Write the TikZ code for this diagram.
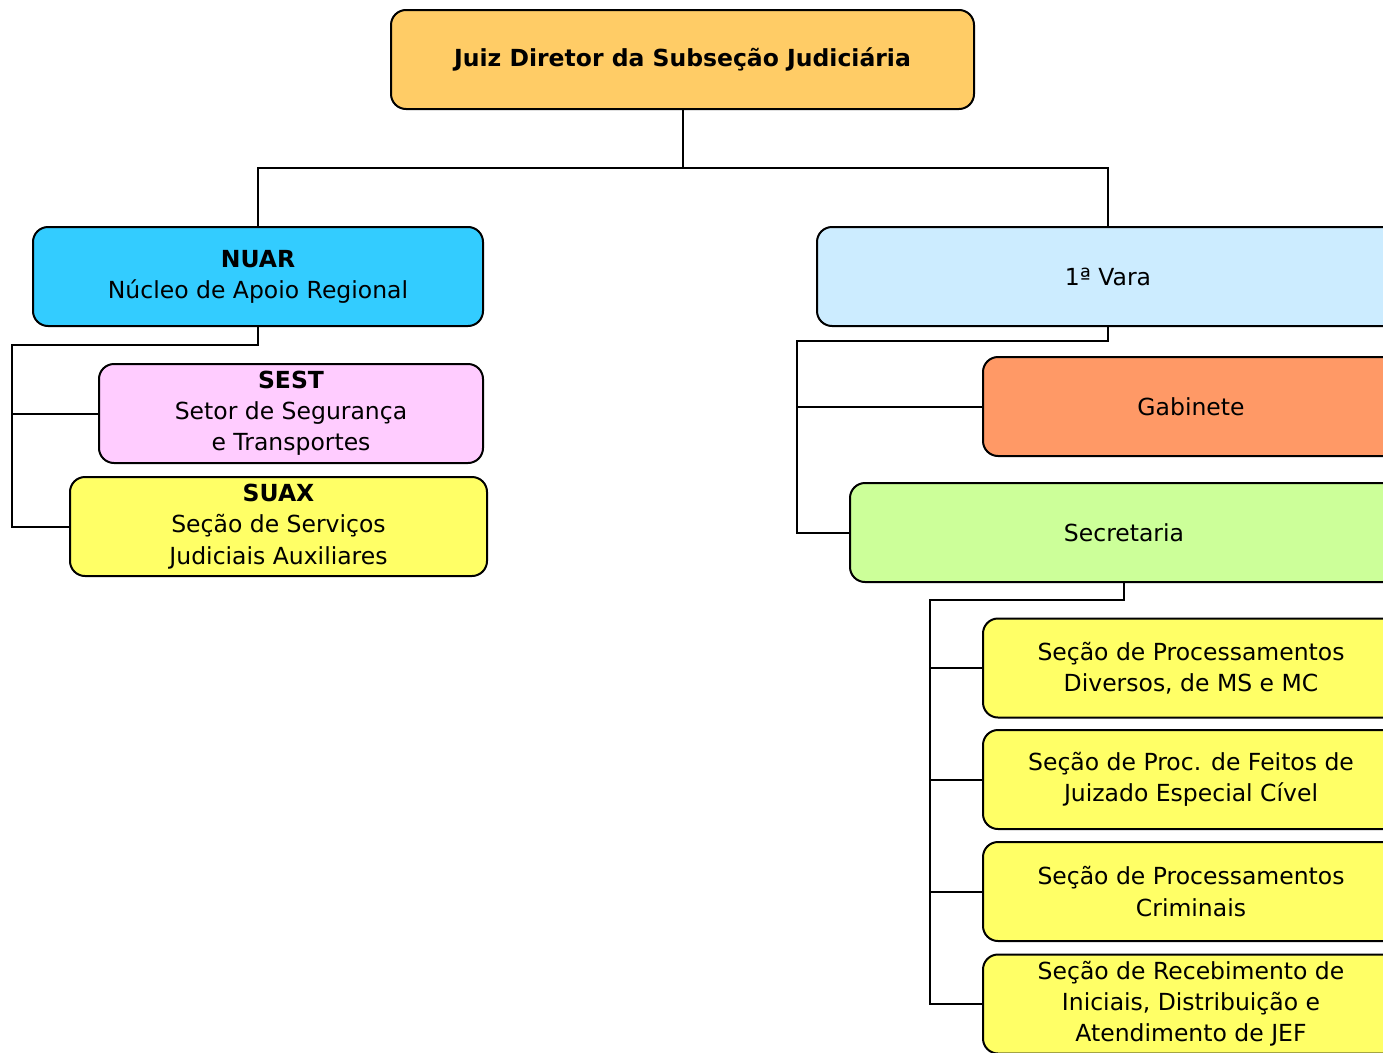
\documentclass[tikz,border=0pt]{standalone}
\usepackage{fontspec}
\setmainfont{DejaVu Sans}
\begin{document}
\begin{tikzpicture}[x=1pt,y=-1pt,
  box/.style={draw=black,line width=2pt,rounded corners=15pt,minimum height=99pt,inner sep=0pt,align=center,
    font=\fontsize{23.5}{31.2}\selectfont},
  conn/.style={draw=black,line width=2pt}]
\useasboundingbox (0,0) rectangle (1383,1052);
\clip (0,0) rectangle (1383,1052);
\node[box,fill={rgb,255:red,255;green,204;blue,102},minimum width=583pt] (top) at (682.5,59.5) {\textbf{Juiz Diretor da Subseção Judiciária}};
\node[box,fill={rgb,255:red,51;green,204;blue,255},minimum width=450pt] (nuar) at (258,276.5) {\textbf{NUAR}\\Núcleo de Apoio Regional};
\node[box,fill={rgb,255:red,255;green,204;blue,255},minimum width=384pt] (sest) at (291,413.5) {\textbf{SEST}\\Setor de Segurança\\e Transportes};
\node[box,fill={rgb,255:red,255;green,255;blue,102},minimum width=417pt] (suax) at (278.5,526.5) {\textbf{SUAX}\\Seção de Serviços\\Judiciais Auxiliares};
\node[box,fill={rgb,255:red,204;green,236;blue,255},minimum width=582pt] (vara) at (1108,276.5) {1ª Vara};
\node[box,fill={rgb,255:red,255;green,153;blue,102},minimum width=416pt] (gab) at (1191,406.5) {Gabinete};
\node[box,fill={rgb,255:red,204;green,255;blue,153},minimum width=548pt] (sec) at (1124,532.5) {Secretaria};
\node[box,fill={rgb,255:red,255;green,255;blue,102},minimum width=416pt] (s1) at (1191,668) {Seção de Processamentos\\Diversos, de MS e MC};
\node[box,fill={rgb,255:red,255;green,255;blue,102},minimum width=416pt] (s2) at (1191,779.5) {Seção de Proc. de Feitos de\\Juizado Especial Cível};
\node[box,fill={rgb,255:red,255;green,255;blue,102},minimum width=416pt] (s3) at (1191,891.5) {Seção de Processamentos\\Criminais};
\node[box,fill={rgb,255:red,255;green,255;blue,102},minimum width=416pt] (s4) at (1191,1004) {Seção de Recebimento de\\Iniciais, Distribuição e\\Atendimento de JEF};
\coordinate (j1) at (682.5,168);
\coordinate (j2) at (12,345);
\coordinate (j3) at (797,341);
\coordinate (j4) at (930,600);
\draw[conn] (top.south) -- (j1) -| (nuar.north);
\draw[conn] (j1) -| (vara.north);
\draw[conn] (nuar.south) |- (j2) |- (sest.west);
\draw[conn] (j2) |- (suax.west);
\draw[conn] (vara.south) |- (j3) |- (gab.west);
\draw[conn] (j3) |- (sec.west);
\draw[conn] (sec.south) |- (j4) |- (s1.west);
\draw[conn] (j4) |- (s2.west);
\draw[conn] (j4) |- (s3.west);
\draw[conn] (j4) |- (s4.west);
\end{tikzpicture}
\end{document}
